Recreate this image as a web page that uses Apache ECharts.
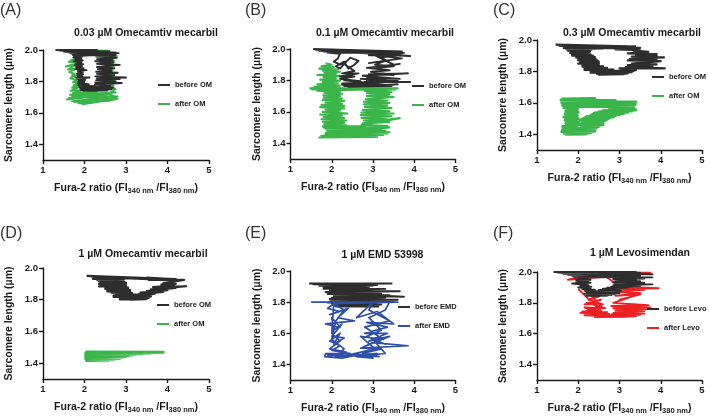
<!DOCTYPE html>
<html><head><meta charset="utf-8">
<style>html,body{margin:0;padding:0;background:#fff}#c{width:709px;height:416px}</style>
<script src="https://cdn.jsdelivr.net/npm/echarts@6/dist/echarts.min.js"></script>
</head><body><div id="c"></div>
<script>
const xTicks=[1,2,3,4,5];
const yTicks=[1.4,1.6,1.8,2.0];
const panelLetters=['(A)','(B)','(C)','(D)','(E)','(F)'];
const panelTitles=['0.03 µM Omecamtiv mecarbil','0.1 µM Omecamtiv mecarbil','0.3 µM Omecamtiv mecarbil','1 µM Omecamtiv mecarbil','1 µM EMD 53998','1 µM Levosimendan'];
const legendBefore=['before OM','before OM','before OM','before OM','before EMD','before Levo'];
const legendAfter=['after OM','after OM','after OM','after OM','after EMD','after Levo'];

const beforeA=[[1.3,2.0],[2.75,1.985],[1.4,1.997],[2.82,1.98],[1.5,1.992],[2.6,1.99],[1.55,1.988],[2.75,1.975],[1.65,1.982],[2.55,1.978],[1.7,1.975],[2.7,1.968],[1.72,1.968],[2.4,1.97],[1.75,1.962],[1.95,1.958],[1.73,1.952],[1.92,1.947],[1.78,1.94],[1.96,1.935],[1.74,1.928],[1.93,1.922],[1.8,1.915],[1.97,1.91],[1.77,1.903],[1.94,1.897],[1.8,1.89],[1.98,1.885],[1.78,1.878],[2.05,1.872],[1.84,1.865],[1.96,1.858],[1.82,1.85],[1.97,1.845],[1.83,1.838],[1.95,1.832],[1.78,1.826],[2.12,1.825],[1.82,1.816],[2.02,1.81],[1.85,1.803],[2.0,1.796],[1.84,1.788],[2.1,1.782],[1.85,1.775],[2.25,1.77],[1.88,1.762],[2.55,1.768],[1.9,1.754],[2.7,1.76],[1.92,1.745],[2.65,1.75],[1.97,1.74],[2.55,1.742],[2.1,1.756],[2.62,1.772],[2.25,1.78],[2.9,1.79],[2.26,1.793],[2.75,1.8],[2.28,1.808],[2.85,1.815],[2.3,1.82],[3.0,1.825],[2.26,1.832],[2.72,1.84],[2.3,1.848],[2.8,1.855],[2.28,1.862],[2.65,1.87],[2.32,1.878],[2.72,1.884],[2.3,1.892],[2.85,1.905],[2.3,1.912],[2.7,1.92],[2.26,1.928],[2.68,1.935],[2.3,1.942],[2.78,1.95],[2.28,1.958],[2.75,1.965],[2.25,1.966],[2.82,1.98],[1.9,1.972],[2.4,1.99],[1.5,1.99],[2.3,2.0],[1.4,2.0],[2.6,1.985]];
const afterA=[[1.45,2.0],[2.6,1.995],[1.75,1.97],[1.85,1.95],[1.68,1.935],[1.85,1.94],[1.62,1.925],[1.8,1.915],[1.55,1.895],[1.78,1.905],[1.6,1.875],[1.84,1.885],[1.63,1.86],[1.75,1.85],[1.7,1.835],[1.82,1.845],[1.66,1.82],[1.8,1.81],[1.72,1.795],[1.9,1.8],[1.74,1.775],[1.85,1.78],[1.7,1.76],[1.88,1.765],[1.67,1.74],[1.95,1.745],[1.72,1.725],[2.3,1.735],[1.65,1.715],[2.75,1.73],[1.7,1.708],[2.65,1.718],[1.58,1.685],[2.5,1.712],[1.62,1.695],[2.8,1.705],[1.7,1.675],[2.6,1.7],[1.75,1.668],[2.7,1.693],[1.85,1.66],[2.55,1.688],[1.95,1.655],[2.8,1.69],[2.0,1.662],[2.7,1.682],[2.05,1.668],[2.6,1.676],[2.15,1.675],[2.78,1.7],[2.55,1.72],[2.75,1.75],[2.58,1.76],[2.7,1.775],[2.56,1.79],[2.72,1.805],[2.45,1.82],[2.7,1.84],[2.5,1.855],[2.68,1.87],[2.52,1.885],[2.7,1.9],[2.45,1.92],[2.72,1.93],[2.55,1.95],[2.78,1.96],[2.45,1.975],[1.9,1.99]];

const beforeB=[[1.55,2.0],[3.7,1.985],[1.58,1.996],[3.55,1.98],[1.62,1.992],[3.9,1.955],[3.0,1.965],[3.7,1.975],[1.7,1.988],[3.5,1.972],[1.8,1.984],[3.2,1.975],[1.9,1.978],[2.2,1.97],[2.15,1.94],[2.05,1.92],[2.2,1.9],[2.35,1.92],[2.2,1.875],[2.1,1.89],[2.3,1.92],[2.4,1.875],[2.55,1.9],[2.65,1.925],[2.45,1.945],[2.3,1.905],[2.55,1.86],[2.25,1.845],[2.65,1.845],[2.2,1.825],[2.55,1.825],[2.2,1.81],[2.7,1.795],[2.3,1.8],[2.85,1.785],[2.25,1.78],[3.0,1.78],[2.25,1.772],[3.5,1.772],[2.3,1.765],[3.6,1.775],[2.4,1.76],[3.45,1.765],[2.8,1.79],[3.9,1.79],[2.85,1.8],[3.6,1.797],[2.7,1.81],[3.3,1.805],[2.85,1.82],[3.65,1.81],[2.75,1.83],[3.85,1.845],[2.9,1.84],[3.5,1.835],[2.95,1.855],[3.4,1.865],[2.85,1.88],[3.65,1.905],[3.1,1.88],[3.5,1.89],[3.05,1.9],[3.3,1.925],[2.9,1.91],[3.7,1.94],[3.05,1.96],[3.5,1.9],[3.2,1.945],[3.75,1.975],[2.9,1.96],[3.6,1.965],[2.8,1.975],[3.4,1.985]];
const afterB=[[1.85,1.91],[2.0,1.9],[1.75,1.89],[2.05,1.885],[1.7,1.875],[2.15,1.87],[1.78,1.862],[2.2,1.855],[1.82,1.85],[2.1,1.842],[1.65,1.835],[2.25,1.828],[1.8,1.82],[2.1,1.812],[1.72,1.805],[2.2,1.798],[1.78,1.79],[2.15,1.782],[1.65,1.775],[2.2,1.768],[1.58,1.76],[2.2,1.755],[1.48,1.75],[3.6,1.75],[1.52,1.743],[3.3,1.745],[1.65,1.735],[2.2,1.728],[1.82,1.72],[2.25,1.715],[1.8,1.705],[2.2,1.7],[1.8,1.69],[2.25,1.685],[1.78,1.675],[2.3,1.67],[1.85,1.66],[2.25,1.652],[1.75,1.645],[2.3,1.638],[1.72,1.63],[2.3,1.622],[1.85,1.615],[2.2,1.608],[1.78,1.6],[2.38,1.59],[1.72,1.583],[2.25,1.575],[1.8,1.567],[2.3,1.56],[1.75,1.553],[2.35,1.545],[1.78,1.537],[2.3,1.53],[1.82,1.522],[2.35,1.515],[1.78,1.508],[2.8,1.51],[1.8,1.5],[2.7,1.502],[1.85,1.493],[3.0,1.49],[1.88,1.484],[3.2,1.482],[1.9,1.475],[3.4,1.47],[1.85,1.465],[3.35,1.462],[1.85,1.456],[3.25,1.453],[1.75,1.448],[3.1,1.447],[1.7,1.437],[3.1,1.44],[1.9,1.45],[3.3,1.48],[2.6,1.478],[3.4,1.5],[2.6,1.495],[3.35,1.51],[2.72,1.517],[3.65,1.56],[2.75,1.527],[3.4,1.535],[2.78,1.545],[3.35,1.553],[2.72,1.562],[3.45,1.572],[2.7,1.58],[3.5,1.59],[2.72,1.596],[3.4,1.604],[2.75,1.612],[3.45,1.625],[2.8,1.632],[3.35,1.64],[2.78,1.648],[3.4,1.656],[2.78,1.664],[3.35,1.672],[2.82,1.68],[3.5,1.695],[2.85,1.7],[3.4,1.71],[2.85,1.718],[3.45,1.725],[2.8,1.733],[3.55,1.742],[2.75,1.746],[3.5,1.748]];

const beforeC=[[1.45,1.97],[3.2,1.96],[1.55,1.962],[3.4,1.945],[1.7,1.955],[3.0,1.95],[1.65,1.948],[2.6,1.947],[1.72,1.94],[2.35,1.942],[1.75,1.932],[2.3,1.934],[1.82,1.925],[2.28,1.925],[1.8,1.917],[2.25,1.917],[1.85,1.908],[2.3,1.908],[1.85,1.9],[2.35,1.9],[1.95,1.89],[2.4,1.892],[2.0,1.88],[2.42,1.882],[2.0,1.87],[2.45,1.872],[2.05,1.86],[2.5,1.862],[2.0,1.85],[2.5,1.852],[2.1,1.84],[2.5,1.842],[2.1,1.83],[2.6,1.832],[2.15,1.82],[2.7,1.822],[2.15,1.81],[2.85,1.812],[2.3,1.8],[3.25,1.805],[2.3,1.792],[3.3,1.796],[2.45,1.785],[3.2,1.787],[2.5,1.78],[3.1,1.783],[3.4,1.81],[3.0,1.82],[4.1,1.82],[3.15,1.828],[3.8,1.833],[3.2,1.84],[3.9,1.845],[3.3,1.85],[4.0,1.865],[3.2,1.87],[3.9,1.875],[3.25,1.88],[4.08,1.89],[3.3,1.895],[3.9,1.9],[3.4,1.905],[3.9,1.91],[3.2,1.915],[3.7,1.925],[3.5,1.93],[3.35,1.93],[3.5,1.935],[2.9,1.94],[3.5,1.95],[2.6,1.955],[3.4,1.96]];
const afterC=[[1.6,1.625],[2.4,1.627],[1.58,1.618],[2.9,1.615],[1.62,1.61],[3.4,1.605],[1.6,1.6],[3.3,1.597],[1.65,1.592],[3.38,1.59],[1.62,1.585],[3.3,1.582],[1.98,1.578],[2.95,1.575],[3.35,1.57],[2.85,1.566],[3.4,1.555],[2.75,1.558],[3.3,1.548],[2.6,1.55],[3.2,1.54],[2.5,1.542],[3.1,1.532],[2.4,1.535],[3.0,1.525],[2.35,1.527],[2.9,1.518],[2.3,1.52],[2.85,1.51],[2.2,1.512],[2.75,1.502],[2.15,1.504],[2.7,1.495],[2.1,1.497],[2.65,1.487],[2.05,1.49],[2.6,1.48],[2.1,1.477],[2.6,1.47],[2.05,1.467],[2.6,1.46],[2.05,1.457],[2.5,1.45],[2.1,1.447],[2.45,1.44],[1.7,1.437],[2.4,1.43],[1.65,1.427],[2.4,1.42],[1.6,1.417],[2.3,1.41],[1.65,1.407],[2.2,1.402],[1.7,1.4],[2.0,1.4],[1.65,1.41],[1.98,1.42],[1.62,1.43],[2.0,1.44],[1.62,1.45],[2.0,1.46],[1.7,1.47],[2.0,1.48],[1.68,1.49],[2.0,1.5],[1.65,1.51],[1.98,1.52],[1.68,1.53],[2.0,1.54],[1.7,1.55],[1.98,1.56],[1.65,1.57],[2.0,1.575],[1.62,1.59]];

const beforeD=[[2.05,1.95],[4.2,1.93],[2.15,1.947],[4.0,1.925],[2.2,1.944],[3.7,1.935],[2.3,1.94],[2.95,1.938],[2.2,1.932],[2.95,1.93],[2.3,1.924],[2.9,1.924],[2.35,1.916],[2.95,1.916],[2.4,1.908],[3.0,1.908],[2.35,1.9],[3.0,1.9],[2.4,1.892],[3.0,1.892],[2.35,1.884],[3.0,1.884],[2.5,1.876],[3.05,1.876],[2.5,1.868],[3.05,1.868],[2.55,1.86],[3.1,1.86],[2.55,1.852],[3.1,1.852],[2.65,1.844],[3.15,1.842],[2.75,1.835],[3.25,1.832],[2.7,1.826],[3.45,1.824],[2.7,1.817],[3.6,1.82],[2.85,1.81],[3.55,1.812],[2.85,1.802],[3.5,1.804],[3.1,1.8],[3.7,1.84],[3.3,1.835],[3.9,1.85],[3.35,1.845],[4.0,1.86],[3.5,1.855],[4.2,1.875],[3.6,1.865],[4.45,1.885],[3.65,1.88],[4.15,1.89],[3.85,1.895],[4.2,1.9],[3.9,1.905],[4.4,1.925],[3.55,1.925],[4.1,1.93],[3.5,1.94]];
const afterD=[[2.03,1.47],[3.9,1.468],[2.03,1.466],[3.6,1.464],[2.03,1.462],[3.4,1.46],[2.03,1.458],[3.25,1.456],[2.7,1.452],[3.15,1.451],[2.03,1.454],[2.45,1.452],[2.03,1.448],[2.45,1.446],[2.65,1.448],[3.05,1.447],[2.03,1.444],[3.0,1.442],[2.03,1.44],[2.95,1.438],[2.03,1.436],[2.9,1.434],[2.03,1.432],[2.85,1.43],[2.03,1.428],[2.8,1.426],[2.05,1.424],[2.7,1.422],[2.05,1.42],[2.6,1.418],[2.05,1.416],[2.5,1.415]];

const beforeE=[[1.45,1.92],[3.45,1.92],[1.55,1.915],[3.1,1.91],[1.7,1.905],[3.0,1.905],[1.8,1.895],[2.9,1.895],[1.8,1.885],[3.3,1.885],[1.95,1.875],[3.65,1.87],[1.85,1.865],[2.7,1.875],[2.0,1.858],[3.2,1.855],[1.9,1.852],[2.6,1.85],[3.75,1.835],[2.1,1.845],[3.4,1.845],[2.05,1.838],[3.2,1.835],[2.0,1.828],[3.3,1.83],[1.95,1.82],[3.6,1.815],[2.0,1.812],[3.2,1.81],[1.95,1.805],[3.5,1.805],[1.9,1.798],[3.2,1.8],[2.0,1.792],[3.1,1.792],[2.05,1.785],[3.2,1.785],[2.05,1.778],[3.1,1.778],[2.1,1.772],[3.15,1.772]];
const afterE=[[1.5,1.8],[3.6,1.8],[2.05,1.79],[1.9,1.76],[2.2,1.74],[1.95,1.72],[2.4,1.76],[2.15,1.7],[2.55,1.68],[1.85,1.66],[2.2,1.64],[2.0,1.7],[2.05,1.62],[2.25,1.66],[2.0,1.58],[2.3,1.57],[2.05,1.53],[2.2,1.6],[1.95,1.55],[2.2,1.52],[2.0,1.49],[2.45,1.47],[1.85,1.47],[1.83,1.45],[2.25,1.44],[2.6,1.46],[3.15,1.45],[2.75,1.47],[3.2,1.5],[2.7,1.505],[3.85,1.52],[3.0,1.54],[2.75,1.51],[3.4,1.58],[2.9,1.55],[3.35,1.6],[2.8,1.6],[3.35,1.64],[2.85,1.67],[3.5,1.66],[3.1,1.74],[2.6,1.7],[3.0,1.8],[2.9,1.75],[3.4,1.68],[2.8,1.64],[3.25,1.56],[2.7,1.58],[3.05,1.5],[2.4,1.46],[3.1,1.47],[2.1,1.45],[2.3,1.5],[2.0,1.56],[2.1,1.68],[2.3,1.75],[2.05,1.79],[2.0,1.6],[2.2,1.55],[1.95,1.5],[2.35,1.48],[1.9,1.46],[2.8,1.455],[3.0,1.44],[2.6,1.45],[3.3,1.47],[3.0,1.56],[3.3,1.53],[2.85,1.58],[3.2,1.62],[2.9,1.7],[3.3,1.75],[3.4,1.8]];

const beforeF=[[1.4,2.0],[3.4,2.0],[1.5,1.996],[3.5,1.995],[1.6,1.992],[3.8,1.985],[1.65,1.986],[3.2,1.985],[1.75,1.98],[3.5,1.975],[1.85,1.974],[3.2,1.972],[1.9,1.968],[3.8,1.965],[2.9,1.963],[3.6,1.958],[2.85,1.953],[3.4,1.948],[2.9,1.944],[3.5,1.94],[2.85,1.934],[3.6,1.93],[2.9,1.924],[3.8,1.92],[2.85,1.914],[3.5,1.91],[2.8,1.905],[3.3,1.905],[2.7,1.898],[3.2,1.9],[2.6,1.892],[3.0,1.888],[2.5,1.884],[3.05,1.878],[2.3,1.876],[2.95,1.87],[2.2,1.868],[3.0,1.862],[2.15,1.86],[2.9,1.856],[2.2,1.852],[2.8,1.85],[2.2,1.845],[2.7,1.846],[2.25,1.87],[2.15,1.88],[2.4,1.885],[2.1,1.89],[2.3,1.895],[2.0,1.9],[2.32,1.905],[2.05,1.91],[2.25,1.915],[1.85,1.925],[2.3,1.93],[1.95,1.935],[2.25,1.94],[1.95,1.948],[2.3,1.95],[2.0,1.955],[2.25,1.96],[1.9,1.965],[2.4,1.97]];
const afterF=[[2.5,1.995],[3.75,1.995],[1.75,1.95],[2.0,1.965],[2.6,1.985],[3.0,1.905],[3.95,1.895],[3.0,1.89],[3.6,1.885],[2.9,1.87],[3.5,1.865],[2.9,1.845],[3.5,1.855],[3.0,1.82],[3.3,1.84],[2.85,1.8],[3.7,1.785],[2.8,1.78],[3.75,1.77],[2.85,1.765],[3.7,1.76],[2.9,1.75],[3.6,1.745],[2.85,1.735],[3.6,1.73],[2.8,1.725],[3.5,1.722],[2.5,1.715],[3.4,1.713],[2.4,1.708],[3.2,1.71],[2.15,1.72],[2.75,1.728],[2.05,1.735],[2.7,1.74],[2.1,1.745],[2.5,1.75],[2.3,1.76],[2.15,1.77],[2.65,1.765],[2.35,1.79],[2.15,1.79],[2.55,1.82],[2.2,1.8],[2.6,1.79],[2.25,1.82],[2.5,1.84],[2.3,1.85],[2.55,1.78],[2.2,1.75],[2.6,1.735],[2.0,1.89]];

const beforeData=[beforeA,beforeB,beforeC,beforeD,beforeE,beforeF];
const afterData=[afterA,afterB,afterC,afterD,afterE,afterF];
const afterColors=['#3ab54a','#3ab54a','#3ab54a','#3ab54a','#2f50a8','#ed2024'];
const beforeOnTop=[true,true,true,true,false,true];
const darkLine='#2d2d2d';
const beforeWidths=[1.9,1.9,2.2,2.2,1.9,1.9];
const afterWidths=[1.9,2.1,3,3,1.7,1.9];

const grids=[[43,50,166,110],[290.5,49,165,110],[537,40,165,110],[43,268,166,111],[290.5,271,165,110],[537,272,165,110]];
const titlePos=[[146,33],[385,33],[632,33],[143,254],[382.5,255],[640,253]];
const letterPos=[[0,3],[245,3],[493,3],[0,226],[245,226],[493,226]];
const legendPos=[[158,81],[412,82],[652,73],[157,301],[398,303],[647,305]];

const option={animation:false,backgroundColor:'#fff',title:[],grid:[],xAxis:[],yAxis:[],series:[],legend:[]};
grids.forEach((g,i)=>{
  option.grid.push({left:g[0],top:g[1],width:g[2],height:g[3]});
  option.xAxis.push({type:'value',gridIndex:i,min:1,max:5,interval:1,splitLine:{show:false},
    axisLine:{show:true,lineStyle:{color:'#1a1a1a',width:1.4}},
    axisTick:{show:true,length:4,lineStyle:{color:'#1a1a1a',width:1.4}},
    axisLabel:{fontFamily:'Liberation Sans',fontWeight:'bold',fontSize:9.5,color:'#1a1a1a',margin:5},
    nameLocation:'middle',nameGap:21,
    name:'{a|Fura-2 ratio (FI}{s|340 nm}{a| /FI}{s|380 nm}{a|)}',
    nameTextStyle:{rich:{a:{fontFamily:'Liberation Sans',fontWeight:'bold',fontSize:10.5,color:'#1a1a1a',lineHeight:14},
      s:{fontFamily:'Liberation Sans',fontWeight:'bold',fontSize:7.5,color:'#1a1a1a',verticalAlign:'bottom',lineHeight:14,padding:[6,0,0,0]}}}});
  option.yAxis.push({type:'value',gridIndex:i,min:1.3,max:2.0,splitLine:{show:false},
    axisLine:{show:true,lineStyle:{color:'#1a1a1a',width:1.4}},
    axisTick:{show:true,length:4,customValues:yTicks,lineStyle:{color:'#1a1a1a',width:1.4}},
    axisLabel:{customValues:yTicks,formatter:v=>v.toFixed(1),fontFamily:'Liberation Sans',fontWeight:'bold',fontSize:9.5,color:'#1a1a1a',margin:5},
    nameLocation:'middle',nameGap:28,name:'Sarcomere length (µm)',
    nameTextStyle:{fontFamily:'Liberation Sans',fontWeight:'bold',fontSize:10.5,color:'#1a1a1a'}});
  const mk=(name,data,color,z,w)=>({type:'line',name,data,xAxisIndex:i,yAxisIndex:i,showSymbol:false,symbol:'none',smooth:false,silent:true,z,
    lineStyle:{color,width:w,join:'round'},itemStyle:{color}});
  option.series.push(mk(legendBefore[i],beforeData[i],darkLine,beforeOnTop[i]?3:2,beforeWidths[i]));
  option.series.push(mk(legendAfter[i],afterData[i],afterColors[i],beforeOnTop[i]?2:3,afterWidths[i]));
  option.title.push({text:panelTitles[i],left:titlePos[i][0],top:titlePos[i][1],textAlign:'center',textVerticalAlign:'middle',padding:0,
    textStyle:{fontFamily:'Liberation Sans',fontWeight:'bold',fontSize:10.5,color:'#1a1a1a'}});
  option.title.push({text:panelLetters[i],left:letterPos[i][0],top:letterPos[i][1],padding:0,
    textStyle:{fontFamily:'Liberation Sans',fontWeight:'normal',fontSize:16,color:'#333'}});
  option.legend.push({data:[legendBefore[i],legendAfter[i]],orient:'vertical',left:legendPos[i][0],top:legendPos[i][1],padding:0,itemWidth:12,itemHeight:2,itemGap:11,icon:'rect',selectedMode:false,
    textStyle:{fontFamily:'Liberation Sans',fontWeight:'bold',fontSize:7.5,color:'#1a1a1a'}});
});
echarts.init(document.getElementById('c'),null,{renderer:'canvas'}).setOption(option);
</script></body></html>
